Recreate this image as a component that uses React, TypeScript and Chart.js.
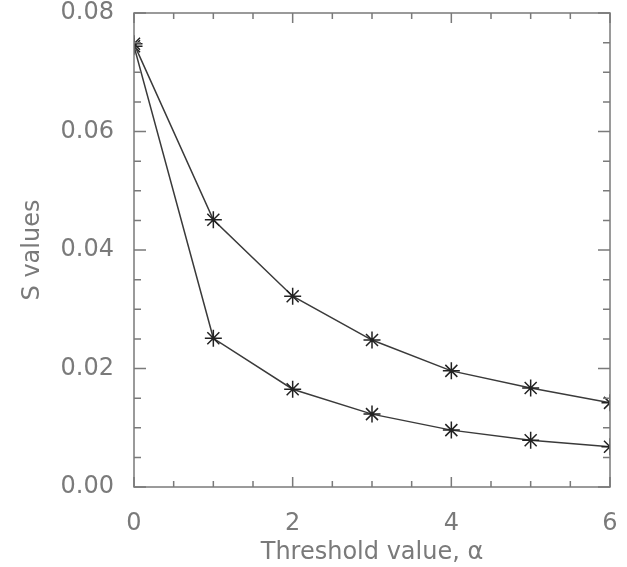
import React, { useEffect, useRef } from "react";
import { Chart, registerables } from "chart.js";

Chart.register(...registerables);

const alphaValues = [0, 1, 2, 3, 4, 5, 6];
const upperS = [0.0748, 0.0451, 0.0322, 0.0248, 0.0196, 0.0167, 0.0142];
const lowerS = [0.0744, 0.0251, 0.0165, 0.0123, 0.0096, 0.0079, 0.0068];
const xTickStep = 2;
const xMinorStep = 0.5;
const yTickStep = 0.02;
const yMinorStep = 0.005;

const TEXT = "#7a7a7a";
const FRAME = "#7a7a7a";
const LINE = "#3a3a3a";

const framePlugin = {
  id: "idlFrame",
  afterDatasetsDraw(chart: any) {
    const { ctx, chartArea: a, scales } = chart;
    const xs = scales.x;
    const ys = scales.y;
    ctx.save();
    ctx.strokeStyle = FRAME;
    ctx.lineWidth = 1.5;
    ctx.strokeRect(a.left, a.top, a.right - a.left, a.bottom - a.top);
    ctx.beginPath();
    const nx = Math.round((xs.max - xs.min) / xMinorStep);
    for (let i = 0; i <= nx; i++) {
      const v = xs.min + i * xMinorStep;
      const px = xs.getPixelForValue(v);
      const major = Math.abs(v / xTickStep - Math.round(v / xTickStep)) < 1e-6;
      const len = major ? 10 : 6;
      ctx.moveTo(px, a.bottom);
      ctx.lineTo(px, a.bottom - len);
      ctx.moveTo(px, a.top);
      ctx.lineTo(px, a.top + len);
    }
    const ny = Math.round((ys.max - ys.min) / yMinorStep);
    for (let i = 0; i <= ny; i++) {
      const v = ys.min + i * yMinorStep;
      const py = ys.getPixelForValue(v);
      const major = Math.abs(v / yTickStep - Math.round(v / yTickStep)) < 1e-6;
      const len = major ? 12 : 7;
      ctx.moveTo(a.left, py);
      ctx.lineTo(a.left + len, py);
      ctx.moveTo(a.right, py);
      ctx.lineTo(a.right - len, py);
    }
    ctx.stroke();
    ctx.restore();
  },
};

export default function App() {
  const ref = useRef<HTMLCanvasElement>(null);
  useEffect(() => {
    if (!ref.current) return;
    const mk = (vals: number[]) => alphaValues.map((x, i) => ({ x, y: vals[i] }));
    const ds = (vals: number[]) => ({
      data: mk(vals),
      borderColor: LINE,
      borderWidth: 1.5,
      pointStyle: "star" as const,
      pointRadius: 8.5,
      pointBorderWidth: 1.5,
      pointBorderColor: "#222",
      pointBackgroundColor: "#222",
      fill: false,
      tension: 0,
      clip: 0,
    });
    const font = { family: "'DejaVu Sans', sans-serif", size: 24, weight: "normal" as const };
    const chart = new Chart(ref.current, {
      type: "line",
      data: { datasets: [ds(upperS), ds(lowerS)] },
      options: {
        animation: false,
        responsive: false,
        maintainAspectRatio: false,
        layout: { padding: { left: 0, top: 13, right: 17, bottom: 0 } },
        plugins: { legend: { display: false }, tooltip: { enabled: false } },
        scales: {
          x: {
            type: "linear",
            min: 0,
            max: 6,
            grid: { display: false },
            border: { display: false },
            ticks: { stepSize: xTickStep, color: TEXT, font, padding: 14, maxRotation: 0 },
            title: {
              display: true,
              text: "Threshold value, α",
              color: TEXT,
              font,
              padding: { top: 0, bottom: 0 },
            },
            afterFit: (s: any) => {
              s.height = 80;
              s.paddingLeft = 0;
              s.paddingRight = 0;
            },
          },
          y: {
            type: "linear",
            min: 0,
            max: 0.08,
            grid: { display: false },
            border: { display: false },
            ticks: {
              stepSize: yTickStep,
              color: TEXT,
              font,
              padding: 12,
              callback: (v: any) => Number(v).toFixed(2),
            },
            title: {
              display: true,
              text: "S values",
              color: TEXT,
              font,
              padding: { top: 18, bottom: 0 },
            },
            afterFit: (s: any) => {
              s.width = 134;
              s.paddingTop = 0;
              s.paddingBottom = 0;
            },
          },
        },
      },
      plugins: [framePlugin],
    });
    return () => chart.destroy();
  }, []);
  return (
    <div style={{ position: "fixed", left: 0, top: 0, width: 627, height: 567, background: "#fff" }}>
      <canvas ref={ref} width={627} height={567} style={{ width: 627, height: 567 }} />
    </div>
  );
}
